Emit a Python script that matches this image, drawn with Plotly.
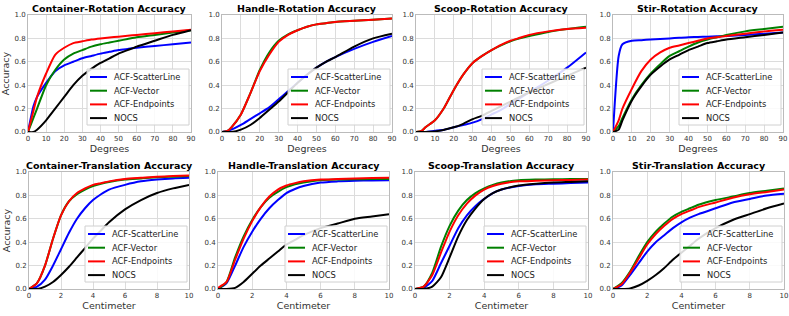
import plotly.graph_objects as go

# ---------------- data ----------------
deg_x = [0, 3, 5, 10, 15, 20, 25, 30, 35, 40, 45, 50, 55, 60, 70, 80, 90]
cm_x = [0, 0.5, 1, 1.5, 2, 2.5, 3, 3.5, 4, 4.5, 5, 6, 7, 8, 9, 10]

y_tick_vals = [0.0, 0.2, 0.4, 0.6, 0.8, 1.0]
y_tick_text = ["0.0", "0.2", "0.4", "0.6", "0.8", "1.0"]

series_names = ["ACF-ScatterLine", "ACF-Vector", "ACF-Endpoints", "NOCS"]
series_colors = ["#0000ff", "#008000", "#ff0000", "#000000"]

titles = ["Container-Rotation Accuracy", "Handle-Rotation Accuracy",
          "Scoop-Rotation Accuracy", "Stir-Rotation Accuracy",
          "Container-Translation Accuracy", "Handle-Translation Accuracy",
          "Scoop-Translation Accuracy", "Stir-Translation Accuracy"]

# Container rotation
cont_rot_scatter = [0, 0.22, 0.30, 0.42, 0.52, 0.57, 0.60, 0.63, 0.65, 0.67, 0.685, 0.70, 0.71, 0.72, 0.735, 0.75, 0.765]
cont_rot_vector = [0, 0.12, 0.20, 0.40, 0.53, 0.62, 0.67, 0.70, 0.73, 0.75, 0.765, 0.78, 0.795, 0.81, 0.83, 0.85, 0.87]
cont_rot_endpts = [0, 0.18, 0.30, 0.50, 0.66, 0.72, 0.76, 0.775, 0.79, 0.80, 0.808, 0.815, 0.822, 0.83, 0.845, 0.86, 0.875]
cont_rot_nocs = [0, 0.0, 0.02, 0.10, 0.20, 0.30, 0.40, 0.48, 0.54, 0.59, 0.63, 0.67, 0.70, 0.73, 0.78, 0.83, 0.87]

# Handle rotation
hand_rot_scatter = [0, 0.01, 0.02, 0.06, 0.11, 0.16, 0.21, 0.28, 0.35, 0.42, 0.49, 0.55, 0.60, 0.64, 0.71, 0.77, 0.82]
hand_rot_vector = [0, 0.01, 0.04, 0.15, 0.33, 0.53, 0.68, 0.78, 0.835, 0.87, 0.90, 0.92, 0.93, 0.94, 0.95, 0.96, 0.97]
hand_rot_endpts = [0, 0.01, 0.04, 0.15, 0.33, 0.52, 0.66, 0.77, 0.83, 0.87, 0.90, 0.92, 0.93, 0.94, 0.95, 0.96, 0.97]
hand_rot_nocs = [0, 0.0, 0.0, 0.02, 0.06, 0.12, 0.19, 0.26, 0.34, 0.42, 0.49, 0.55, 0.60, 0.64, 0.73, 0.80, 0.84]

# Scoop rotation
scoop_rot_scatter = [0, 0.0, 0.0, 0.01, 0.02, 0.04, 0.06, 0.08, 0.11, 0.15, 0.19, 0.24, 0.29, 0.34, 0.44, 0.55, 0.68]
scoop_rot_vector = [0, 0.01, 0.04, 0.10, 0.21, 0.36, 0.49, 0.59, 0.65, 0.70, 0.74, 0.775, 0.80, 0.82, 0.855, 0.88, 0.90]
scoop_rot_endpts = [0, 0.01, 0.04, 0.10, 0.21, 0.36, 0.49, 0.59, 0.65, 0.70, 0.745, 0.78, 0.805, 0.83, 0.86, 0.88, 0.89]
scoop_rot_nocs = [0, 0.0, 0.0, 0.005, 0.02, 0.04, 0.07, 0.11, 0.14, 0.18, 0.22, 0.26, 0.30, 0.34, 0.41, 0.48, 0.55]

# Stir rotation
stir_rot_scatter = [0, 0.65, 0.75, 0.78, 0.785, 0.79, 0.795, 0.80, 0.805, 0.81, 0.812, 0.815, 0.818, 0.82, 0.83, 0.84, 0.85]
stir_rot_vector = [0, 0.05, 0.12, 0.28, 0.40, 0.50, 0.58, 0.65, 0.69, 0.73, 0.765, 0.79, 0.81, 0.83, 0.86, 0.88, 0.90]
stir_rot_endpts = [0, 0.10, 0.20, 0.37, 0.52, 0.62, 0.68, 0.72, 0.74, 0.76, 0.78, 0.80, 0.81, 0.82, 0.84, 0.86, 0.875]
stir_rot_nocs = [0, 0.02, 0.10, 0.27, 0.39, 0.49, 0.56, 0.62, 0.66, 0.70, 0.73, 0.76, 0.775, 0.79, 0.81, 0.83, 0.85]

# Container translation
cont_tr_scatter = [0, 0.02, 0.08, 0.20, 0.34, 0.48, 0.60, 0.69, 0.76, 0.81, 0.85, 0.89, 0.92, 0.935, 0.945, 0.95]
cont_tr_vector = [0, 0.05, 0.20, 0.43, 0.63, 0.75, 0.81, 0.85, 0.88, 0.90, 0.915, 0.935, 0.945, 0.955, 0.96, 0.965]
cont_tr_endpts = [0, 0.05, 0.20, 0.43, 0.63, 0.75, 0.82, 0.86, 0.89, 0.905, 0.92, 0.94, 0.95, 0.96, 0.965, 0.97]
cont_tr_nocs = [0, 0.0, 0.02, 0.06, 0.12, 0.19, 0.27, 0.35, 0.43, 0.50, 0.57, 0.68, 0.76, 0.82, 0.86, 0.89]

# Handle translation
hand_tr_scatter = [0, 0.05, 0.20, 0.36, 0.49, 0.60, 0.69, 0.76, 0.82, 0.855, 0.88, 0.91, 0.92, 0.925, 0.928, 0.93]
hand_tr_vector = [0, 0.06, 0.27, 0.45, 0.59, 0.70, 0.78, 0.83, 0.87, 0.895, 0.91, 0.93, 0.935, 0.937, 0.94, 0.94]
hand_tr_endpts = [0.01, 0.06, 0.25, 0.43, 0.58, 0.70, 0.79, 0.85, 0.885, 0.905, 0.92, 0.935, 0.94, 0.945, 0.948, 0.95]
hand_tr_nocs = [0, 0.0, 0.01, 0.06, 0.13, 0.20, 0.26, 0.32, 0.38, 0.42, 0.46, 0.52, 0.56, 0.60, 0.62, 0.64]

# Scoop translation
scoop_tr_scatter = [0, 0.01, 0.07, 0.22, 0.37, 0.52, 0.63, 0.71, 0.77, 0.82, 0.85, 0.88, 0.895, 0.90, 0.905, 0.91]
scoop_tr_vector = [0, 0.02, 0.14, 0.36, 0.54, 0.67, 0.76, 0.82, 0.86, 0.89, 0.91, 0.93, 0.935, 0.937, 0.94, 0.94]
scoop_tr_endpts = [0, 0.02, 0.12, 0.31, 0.49, 0.63, 0.73, 0.80, 0.85, 0.88, 0.90, 0.92, 0.925, 0.93, 0.932, 0.935]
scoop_tr_nocs = [0, 0.0, 0.02, 0.10, 0.27, 0.45, 0.59, 0.69, 0.77, 0.82, 0.85, 0.885, 0.90, 0.91, 0.915, 0.92]

# Stir translation
stir_tr_scatter = [0, 0.03, 0.12, 0.22, 0.32, 0.40, 0.46, 0.52, 0.57, 0.61, 0.64, 0.69, 0.74, 0.77, 0.80, 0.815]
stir_tr_vector = [0, 0.05, 0.15, 0.28, 0.40, 0.49, 0.56, 0.62, 0.66, 0.69, 0.72, 0.76, 0.79, 0.82, 0.84, 0.86]
stir_tr_endpts = [0, 0.04, 0.14, 0.26, 0.38, 0.47, 0.54, 0.60, 0.64, 0.67, 0.70, 0.74, 0.78, 0.81, 0.83, 0.85]
stir_tr_nocs = [0, 0.0, 0.005, 0.03, 0.07, 0.12, 0.18, 0.25, 0.31, 0.37, 0.43, 0.52, 0.59, 0.64, 0.69, 0.73]

panels = [
    (deg_x, [cont_rot_scatter, cont_rot_vector, cont_rot_endpts, cont_rot_nocs]),
    (deg_x, [hand_rot_scatter, hand_rot_vector, hand_rot_endpts, hand_rot_nocs]),
    (deg_x, [scoop_rot_scatter, scoop_rot_vector, scoop_rot_endpts, scoop_rot_nocs]),
    (deg_x, [stir_rot_scatter, stir_rot_vector, stir_rot_endpts, stir_rot_nocs]),
    (cm_x, [cont_tr_scatter, cont_tr_vector, cont_tr_endpts, cont_tr_nocs]),
    (cm_x, [hand_tr_scatter, hand_tr_vector, hand_tr_endpts, hand_tr_nocs]),
    (cm_x, [scoop_tr_scatter, scoop_tr_vector, scoop_tr_endpts, scoop_tr_nocs]),
    (cm_x, [stir_tr_scatter, stir_tr_vector, stir_tr_endpts, stir_tr_nocs]),
]

# ---------------- layout ----------------
W, H = 789, 316
xpix = [(28, 191), (222, 392), (416, 586), (613, 783),
        (29, 189), (218, 389), (415, 588), (613, 784)]
ypix = [(15, 132)] * 4 + [(172, 289)] * 4

FONT = "DejaVu Sans"
TXT = "#333333"
fig = go.Figure()
layout = dict(width=W, height=H, margin=dict(l=0, r=0, t=0, b=0, autoexpand=False),
              paper_bgcolor="white", plot_bgcolor="white", showlegend=False,
              font=dict(family=FONT, size=8, color=TXT))
annotations = []
shapes = []


def px(x):
    return x / W


def py(y):
    return 1 - y / H


for i, (xs, ys_list) in enumerate(panels):
    n = i + 1
    xa = "xaxis" if n == 1 else f"xaxis{n}"
    ya = "yaxis" if n == 1 else f"yaxis{n}"
    xr = "x" if n == 1 else f"x{n}"
    yr = "y" if n == 1 else f"y{n}"
    L, R = xpix[i]
    T, B = ypix[i]
    is_deg = i < 4
    layout[xa] = dict(domain=[px(L), px(R)], anchor=yr, automargin=False,
                      range=[0, 90] if is_deg else [0, 10],
                      dtick=10 if is_deg else 2, tick0=0,
                      showgrid=True, gridcolor="#dcdcdc", gridwidth=1,
                      showline=True, linecolor="#bbbbbb", mirror=True,
                      zeroline=False, ticks="", ticklen=0,
                      tickfont=dict(size=7, color=TXT),
                      title=dict(text="Degrees" if is_deg else "Centimeter",
                                 font=dict(size=9.5, color=TXT), standoff=2))
    layout[ya] = dict(domain=[py(B), py(T)], anchor=xr, automargin=False, range=[0, 1.0],
                      tickmode="array", tickvals=y_tick_vals, ticktext=y_tick_text,
                      showgrid=True, gridcolor="#dcdcdc", gridwidth=1,
                      showline=True, linecolor="#bbbbbb", mirror=True,
                      zeroline=False, ticks="", ticklen=0,
                      tickfont=dict(size=7, color=TXT))
    if i % 4 == 0:
        layout[ya]["title"] = dict(text="Accuracy", font=dict(size=9.5, color=TXT), standoff=3)
    annotations.append(dict(text=f"<b>{titles[i]}</b>", x=(px(L) + px(R)) / 2, y=py(T),
                            xref="paper", yref="paper", xanchor="center", yanchor="bottom",
                            yshift=-1, showarrow=False,
                            font=dict(family=FONT, size=9.5, color="#000000")))
    for name, color, ys in zip(series_names, series_colors, ys_list):
        fig.add_trace(go.Scatter(x=xs, y=ys, mode="lines", name=name,
                                 line=dict(color=color, width=2, shape="spline", smoothing=0.6),
                                 xaxis=xr, yaxis=yr))

    # manual legend box (matplotlib style), lower right inside the plot
    bx1, by1 = R - 2, B - 7
    bx0, by0 = bx1 - 102, by1 - 56
    shapes.append(dict(type="rect", xref="paper", yref="paper",
                       x0=px(bx0), x1=px(bx1), y0=py(by1), y1=py(by0),
                       fillcolor="rgba(255,255,255,0.85)", line=dict(color="#d0d0d0", width=1),
                       layer="above"))
    for k, (name, color) in enumerate(zip(series_names, series_colors)):
        yy = by0 + 8 + 13.7 * k
        shapes.append(dict(type="line", xref="paper", yref="paper",
                           x0=px(bx0 + 3), x1=px(bx0 + 20), y0=py(yy), y1=py(yy),
                           line=dict(color=color, width=2), layer="above"))
        annotations.append(dict(text=name, x=px(bx0 + 25), y=py(yy), xref="paper", yref="paper",
                                xanchor="left", yanchor="middle", showarrow=False,
                                font=dict(family=FONT, size=8.3, color="#222222")))

layout["annotations"] = annotations
layout["shapes"] = shapes
fig.update_layout(**layout)
fig.write_html("out.html", config={"displayModeBar": False},
               post_script="document.body.style.margin='0';document.body.style.padding='0';")
